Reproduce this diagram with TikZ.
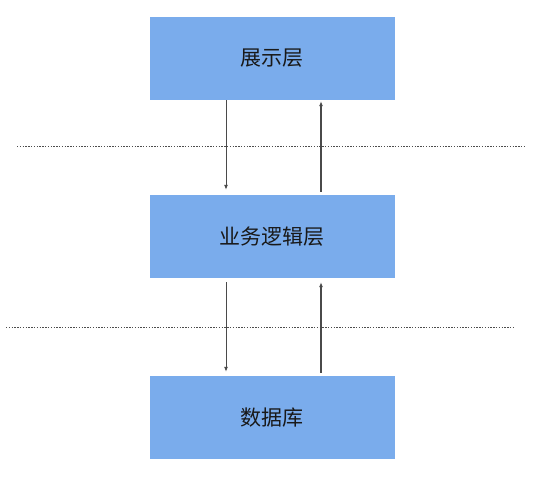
\documentclass[tikz,border=0pt]{standalone}
\usepackage{fontspec}
\usepackage{tikz}
\usetikzlibrary{arrows.meta,positioning}
\newfontfamily\cjk{Noto Sans CJK SC}
\definecolor{layerblue}{HTML}{7AACEC}
\definecolor{linegray}{HTML}{4A4A4A}

\begin{document}
\begin{tikzpicture}[x=1pt,y=-1pt,
  layer/.style={shape=rectangle,fill=layerblue,minimum width=245pt,minimum height=83pt,inner sep=0pt,font=\cjk\fontsize{21}{25}\selectfont,text=black!90},
  flow/.style={draw=linegray,line width=0.9pt,-{Latex[length=5pt,width=4pt]}}]
\useasboundingbox (0,0) rectangle (550,500);

\node[layer] (1) at (272,58.5){展示层};
\node[layer] (2) at (272,236.5){业务逻辑层};
\node[layer] (3) at (272,417.5){数据库};

\draw[dash pattern=on 1.4pt off 1.4pt,line width=0.8pt,black!70] (17,146) -- (525,146);
\draw[dash pattern=on 1.4pt off 1.4pt,line width=0.8pt,black!70] (6,327) -- (513,327);

\draw[flow,shorten >=5pt] ([xshift=-46pt]1.south) -- ([xshift=-46pt]2.north);
\draw[flow,line width=1.2pt,shorten <=3pt,shorten >=1pt] ([xshift=49pt]2.north) -- ([xshift=49pt]1.south);
\draw[flow,shorten <=4pt,shorten >=4pt] ([xshift=-46pt]2.south) -- ([xshift=-46pt]3.north);
\draw[flow,line width=1.2pt,shorten <=3pt,shorten >=4pt] ([xshift=49pt]3.north) -- ([xshift=49pt]2.south);

\end{tikzpicture}
\end{document}
